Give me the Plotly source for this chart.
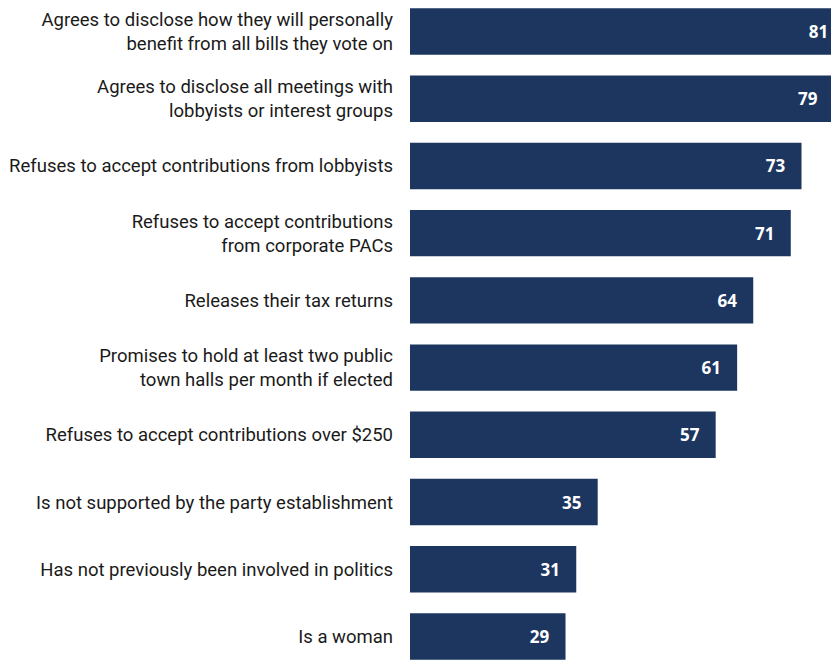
import plotly.graph_objects as go

categories = [
    "Agrees to disclose how they will personally<br>benefit from all bills they vote on",
    "Agrees to disclose all meetings with<br>lobbyists or interest groups",
    "Refuses to accept contributions from lobbyists",
    "Refuses to accept contributions<br>from corporate PACs",
    "Releases their tax returns",
    "Promises to hold at least two public<br>town halls per month if elected",
    "Refuses to accept contributions over $250",
    "Is not supported by the party establishment",
    "Has not previously been involved in politics",
    "Is a woman",
]
values = [81, 79, 73, 71, 64, 61, 57, 35, 31, 29]

bar_color = "#1c365f"
ypos = list(range(len(categories)))
pad = "\u00a0" * 3

fig = go.Figure()
fig.add_trace(go.Bar(
    x=values,
    y=ypos,
    orientation="h",
    marker=dict(color=bar_color, line=dict(width=0)),
    width=0.69,
    text=[f"<b>{v}</b>{pad}" for v in values],
    textposition="inside",
    insidetextanchor="end",
    textangle=0,
    constraintext="none",
    insidetextfont=dict(family="Open Sans, sans-serif", size=17, color="white"),
    hoverinfo="x",
))

fig.update_layout(
    width=831,
    height=660,
    margin=dict(l=410, r=0, t=0, b=0),
    paper_bgcolor="white",
    plot_bgcolor="white",
    showlegend=False,
    font=dict(family="Roboto, sans-serif", size=18.5, color="#1a1a1a"),
    xaxis=dict(range=[0, 78.5], visible=False, fixedrange=True),
    yaxis=dict(
        range=[9.35, -0.4686],
        tickmode="array",
        tickvals=ypos,
        ticktext=categories,
        showgrid=False,
        zeroline=False,
        showline=False,
        ticks="",
        ticklabelstandoff=16,
        tickfont=dict(family="Roboto, sans-serif", size=18.5, color="#1a1a1a"),
        fixedrange=True,
    ),
)

fig.write_html(
    "out.html",
    config={"displayModeBar": False},
    post_script="document.body.style.margin='0';document.body.style.overflow='hidden';",
)
